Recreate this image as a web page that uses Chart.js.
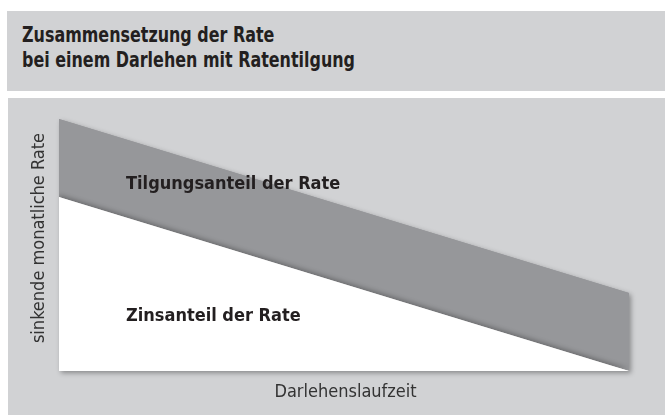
<!DOCTYPE html>
<html lang="de">
<head>
<meta charset="utf-8">
<title>Zusammensetzung der Rate</title>
<script src="https://cdn.jsdelivr.net/npm/chart.js@4.4.1/dist/chart.umd.min.js"></script>
<style>
    body { margin: 0; background: #fff; width: 665px; height: 419px; overflow: hidden; position: relative; }
    #kopf { position: absolute; left: 7px; top: 11px; width: 658px; height: 80px; background: #d1d2d4; }
    #kopf h1 { margin: 0; position: absolute; left: 15px; top: 11px; white-space: nowrap;
        transform: scaleX(0.805); transform-origin: left top;
        font: bold 22px/25px "Liberation Sans Narrow", "DejaVu Sans Condensed", sans-serif; color: #231f20; }
    #feld { position: absolute; left: 8px; top: 98px; width: 657px; height: 317px; background: #d1d2d4; }
</style>
</head>
<body>
<div id="kopf"><h1>Zusammensetzung der Rate<br>bei einem Darlehen mit Ratentilgung</h1></div>
<div id="feld"><canvas id="rate" width="657" height="317"></canvas></div>
<script>
// Laufzeit von Anfang bis Ende, Anteile in Prozent der Anfangsrate
const laufzeit = ['Beginn', 'Ende'];
const zinsanteil = [69, 0];
const tilgungsanteil = [31, 31];

const schrift = '"Liberation Sans Narrow", "DejaVu Sans Condensed", sans-serif';

// weicher Schatten unter der Flaeche
const schatten = {
    id: 'schatten',
    beforeDatasetsDraw(chart) {
        const ctx = chart.ctx;
        const oben = chart.getDatasetMeta(1).data;
        const y0 = chart.scales.y.getPixelForValue(0);
        ctx.save();
        ctx.shadowColor = 'rgba(0,0,0,0.35)';
        ctx.shadowBlur = 5;
        ctx.shadowOffsetX = 2;
        ctx.shadowOffsetY = 2;
        ctx.fillStyle = '#96979a';
        ctx.beginPath();
        ctx.moveTo(oben[0].x, oben[0].y);
        ctx.lineTo(oben[oben.length - 1].x, oben[oben.length - 1].y);
        ctx.lineTo(oben[oben.length - 1].x, y0);
        ctx.lineTo(oben[0].x, y0);
        ctx.closePath();
        ctx.fill();
        ctx.restore();
    },
    afterDatasetsDraw(chart) {
        const ctx = chart.ctx;
        const unten = chart.getDatasetMeta(0).data;
        const y0 = chart.scales.y.getPixelForValue(0);
        const a = chart.chartArea;
        ctx.save();
        ctx.beginPath();
        ctx.rect(a.left, a.top, a.right - a.left, a.bottom - a.top);
        ctx.clip();
        ctx.shadowColor = 'rgba(0,0,0,0.3)';
        ctx.shadowBlur = 5;
        ctx.shadowOffsetY = -2;
        ctx.fillStyle = '#ffffff';
        ctx.beginPath();
        ctx.moveTo(unten[0].x, unten[0].y);
        ctx.lineTo(unten[unten.length - 1].x, unten[unten.length - 1].y);
        ctx.lineTo(unten[0].x, y0);
        ctx.closePath();
        ctx.fill();
        ctx.restore();
    }
};

const beschriftung = {
    id: 'beschriftung',
    afterDraw(chart) {
        const ctx = chart.ctx;
        const a = chart.chartArea;
        ctx.save();
        ctx.fillStyle = '#231f20';
        ctx.font = 'bold 18px ' + schrift;
        ctx.textAlign = 'left';
        ctx.textBaseline = 'alphabetic';
        ctx.fillText('Tilgungsanteil der Rate', a.left + 67, a.top + 69.5);
        ctx.fillText('Zinsanteil der Rate', a.left + 67, a.top + 202);

        ctx.fillStyle = '#333333';
        ctx.font = '18px ' + schrift;
        ctx.textAlign = 'center';
        ctx.fillText('Darlehenslaufzeit', (a.left + a.right) / 2 + 1.5, a.bottom + 26);

        ctx.translate(a.left - 20, (a.top + a.bottom) / 2 - 7);
        ctx.rotate(-Math.PI / 2);
        ctx.textBaseline = 'middle';
        ctx.fillText('sinkende monatliche Rate', 0, 0);
        ctx.restore();
    }
};

new Chart(document.getElementById('rate'), {
    type: 'line',
    data: {
        labels: laufzeit,
        datasets: [
            {
                label: 'Zinsanteil der Rate',
                data: zinsanteil,
                backgroundColor: '#ffffff',
                borderWidth: 0,
                fill: 'origin'
            },
            {
                label: 'Tilgungsanteil der Rate',
                data: tilgungsanteil,
                backgroundColor: '#96979a',
                borderWidth: 0,
                fill: '-1'
            }
        ]
    },
    options: {
        responsive: false,
        animation: false,
        layout: { padding: { left: 51, right: 36, top: 21, bottom: 44 } },
        plugins: {
            legend: { display: false },
            tooltip: { enabled: false }
        },
        elements: {
            point: { radius: 0 },
            line: { tension: 0 }
        },
        scales: {
            x: { display: false },
            y: { display: false, stacked: true, min: 0, max: 100 }
        }
    },
    plugins: [schatten, beschriftung]
});
</script>
</body>
</html>
